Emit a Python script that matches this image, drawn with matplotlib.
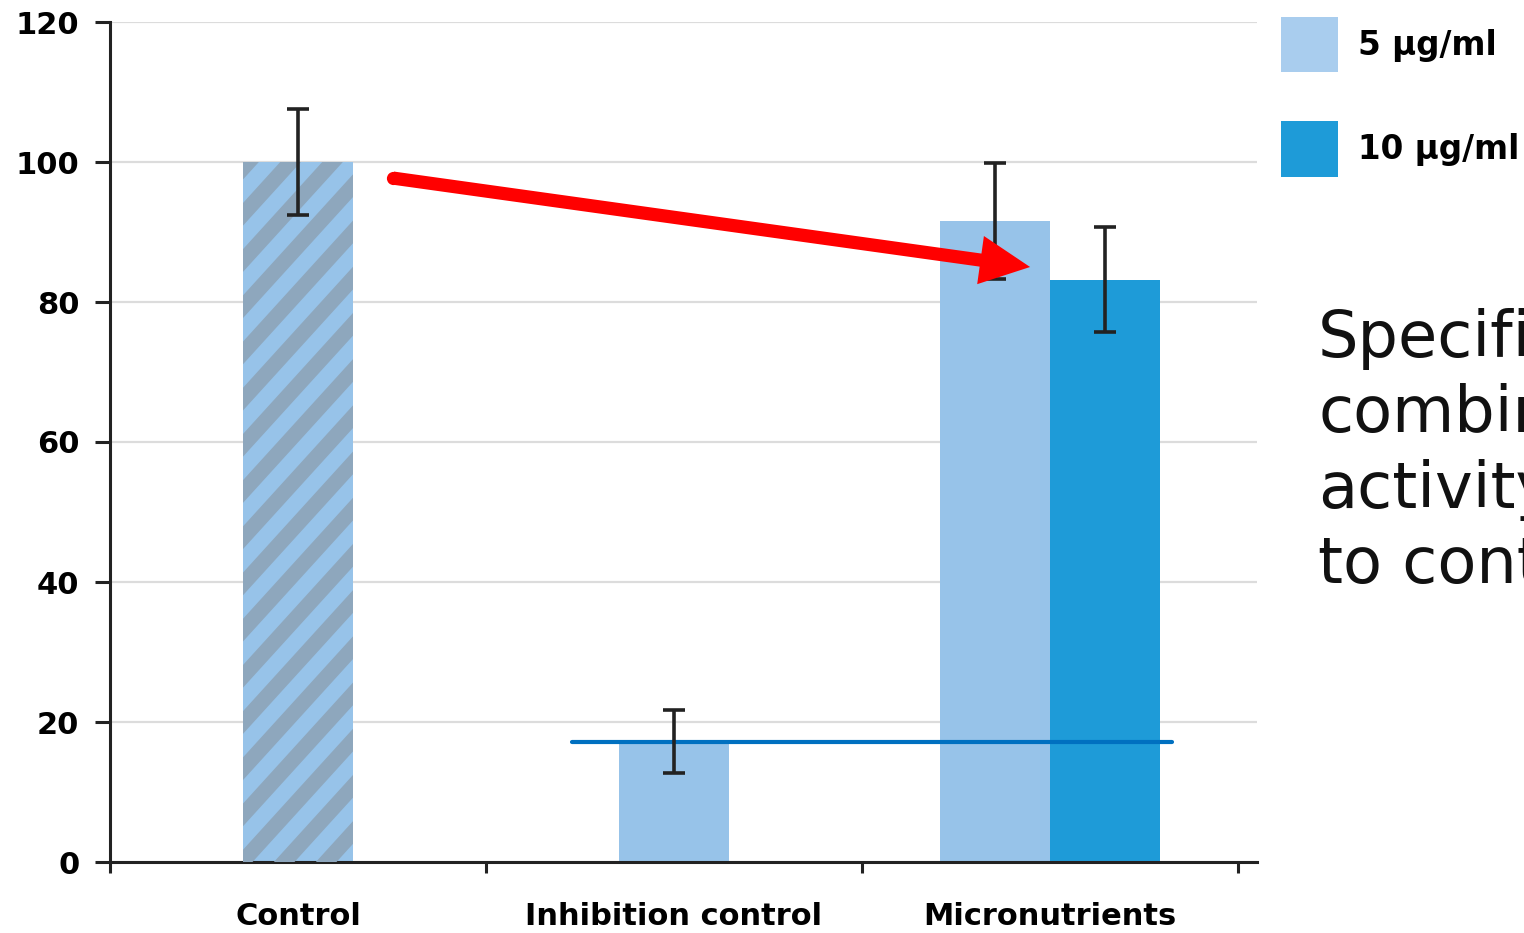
import matplotlib
matplotlib.use('Agg')
import numpy as np
import matplotlib.pyplot as plt
from matplotlib.patches import FancyArrowPatch, ArrowStyle, Patch
from matplotlib.lines import Line2D
from matplotlib.transforms import IdentityTransform

plt.rcParams['font.family'] = ['DejaVu Sans']

# data (% activity)
categories = ['Control', 'Inhibition control', 'Micronutrients']
control_val, control_err = 100.0, 7.6
inhib_val, inhib_err = 17.2, 4.5
micro_vals = [91.6, 83.2]          # 5 ug/ml, 10 ug/ml
micro_errs = [8.3, 7.5]
series_labels = ['5 µg/ml', '10 µg/ml']
yticks = [0, 20, 40, 60, 80, 100, 120]
note_lines = ['Specific', 'combination', 'activity', 'to control']

# annotation geometry (data coords)
arrow_start = (0.253, 97.7)
arrow_end = (1.947, 85.0)
ref_span = (0.729, 2.324)

light = '#97c3e9'
dark = '#1e9bd8'
legend_light = '#a9cdee'
ink = '#222222'

fig = plt.figure(figsize=(15.24, 9.33), dpi=100)
ax = fig.add_axes([110/1524, 1 - 862/933, 1147/1524, 840/933])

w = 0.293
ctrl = ax.bar(0, control_val, width=w, color=light, zorder=2)[0]
ax.bar(1, inhib_val, width=w, color=light, zorder=2)
ax.bar(2 - w/2, micro_vals[0], width=w, color=light, zorder=2)
ax.bar(2 + w/2, micro_vals[1], width=w, color=dark, zorder=2)

ax.errorbar([0, 1, 2 - w/2, 2 + w/2],
            [control_val, inhib_val] + micro_vals,
            yerr=[control_err, inhib_err] + micro_errs,
            fmt='none', ecolor=ink, elinewidth=2.6, capsize=8,
            capthick=2.6, zorder=5)

# reference line at the inhibition-control level
ax.plot(ref_span, [inhib_val, inhib_val], color='#0070c0', lw=3,
        solid_capstyle='round', zorder=4)

ax.set_xlim(-0.5, 2.5505)
ax.set_ylim(0, 120)
ax.set_yticks(yticks)
ax.set_xticks([0, 1, 2])
ax.set_xticklabels(categories)
ax.set_xticks([-0.5, 0.5, 1.5, 2.5], minor=True)
ax.tick_params(axis='x', which='major', length=0, pad=29, labelsize=22)
ax.tick_params(axis='x', which='minor', length=8, width=2.2, color=ink)
ax.tick_params(axis='y', length=11, width=2.2, color=ink, pad=11, labelsize=22)
for lab in ax.get_xticklabels() + ax.get_yticklabels():
    lab.set_fontweight('bold')
ax.grid(axis='y', color='#dcdcdc', lw=1.6)
ax.set_axisbelow(True)
for s in ['top', 'right']:
    ax.spines[s].set_visible(False)
for s in ['left', 'bottom']:
    ax.spines[s].set_linewidth(2.2)
    ax.spines[s].set_color(ink)

# diagonal stripes on the control bar
bb = ctrl.get_window_extent()
ext = 40
h = bb.y1 - bb.y0 + 2 * ext
slope = 1.1
period = 42
for sx in np.arange(bb.x0 - h / slope - period, bb.x1 + period, period):
    ln = Line2D([sx, sx + h / slope], [bb.y0 - ext, bb.y1 + ext],
                transform=IdentityTransform(),
                color='#8ea7bd', lw=11, solid_capstyle='butt', zorder=3)
    ax.add_line(ln)
    ln.set_clip_path(ctrl)

# red arrow with a rounded tail
arrow = FancyArrowPatch(arrow_start, arrow_end,
                        arrowstyle=ArrowStyle('simple', head_length=36,
                                              head_width=35, tail_width=9.5),
                        mutation_scale=1, lw=0, color='#ff0000',
                        shrinkA=0, shrinkB=0, zorder=6)
ax.add_patch(arrow)
ax.plot(*arrow_start, marker='o', ms=9.5, mew=0, color='#ff0000', zorder=6)

handles = [Patch(facecolor=legend_light, edgecolor='none'),
           Patch(facecolor=dark, edgecolor='none')]
fig.legend(handles, series_labels, loc='upper left',
           bbox_to_anchor=(1281/1524, 1 - 17/933), frameon=False,
           borderpad=0, borderaxespad=0, handlelength=1.75, handleheight=2.23,
           labelspacing=1.5, handletextpad=0.6,
           prop=dict(weight='bold', size=23.5))

for i, line in enumerate(note_lines):
    fig.text(1318/1524, 1 - (357 + 75.3 * i)/933, line, fontsize=46,
             va='baseline', ha='left', color='#111111')

fig.savefig('out.png', dpi=100)
